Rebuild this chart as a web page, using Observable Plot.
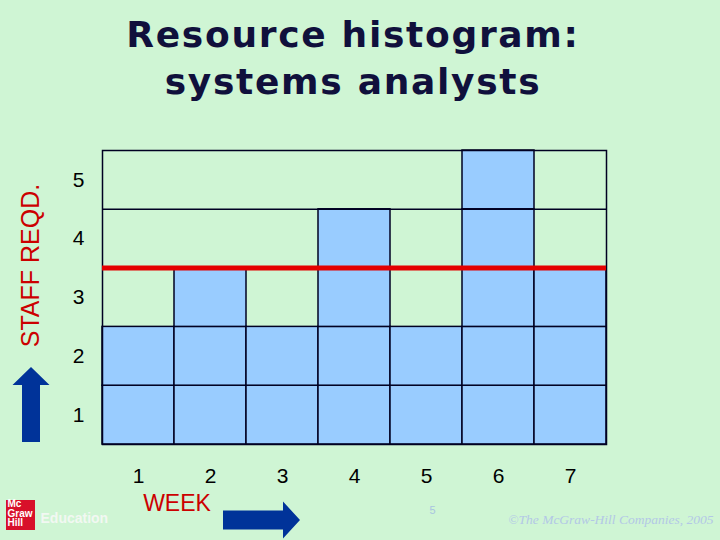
<!DOCTYPE html>
<html><head><meta charset="utf-8">
<script src="https://cdn.jsdelivr.net/npm/d3@7"></script>
<script src="https://cdn.jsdelivr.net/npm/@observablehq/plot@0.6"></script>
<style>
html,body{margin:0;padding:0;background:#cff5d4;}
#wrap{width:720px;height:540px;position:relative;overflow:hidden;background:#cff5d4;}
#title{height:140px;box-sizing:border-box;padding-top:11px;padding-right:14px;text-align:center;font:bold 36px "DejaVu Sans",sans-serif;color:#10103c;line-height:47px;letter-spacing:1.7px;}
#chart svg{display:block;overflow:visible;}
</style></head><body>
<div id="wrap"><div id="title">Resource histogram:<br>systems analysts</div><div id="chart"></div></div>
<script>
const weeks = [1, 2, 3, 4, 5, 6, 7];
const staffRequired = [2, 3, 2, 4, 2, 5, 3];
const staffLimit = 3;
const yMax = 5;
const yTickLabels = [1, 2, 3, 4, 5];
const gridLine = 4;

const cells = weeks.flatMap((w, i) =>
  d3.range(staffRequired[i]).map(k => ({week: w, lo: k, hi: k + 1})));

const ink = "#000022";
const arrowBlue = "#003399";

function decorations(index, scales, values, dimensions) {
  const {marginLeft: ml, height, marginBottom: mb} = dimensions;
  const fb = height - mb;
  const g = d3.create("svg:g");
  const cx = ml - 71;
  g.append("path").attr("fill", arrowBlue).attr("d",
    `M${cx},${fb - 77} L${cx + 18.5},${fb - 59} L${cx + 9},${fb - 59} L${cx + 9},${fb - 2} L${cx - 9},${fb - 2} L${cx - 9},${fb - 59} L${cx - 18.5},${fb - 59} Z`);
  const cy = fb + 76;
  g.append("path").attr("fill", arrowBlue).attr("d",
    `M${ml + 198},${cy} L${ml + 181},${cy - 18.5} L${ml + 181},${cy - 9.5} L${ml + 121},${cy - 9.5} L${ml + 121},${cy + 9.5} L${ml + 181},${cy + 9.5} L${ml + 181},${cy + 18.5} Z`);
  g.append("rect").attr("x", ml - 96).attr("y", fb + 56).attr("width", 29).attr("height", 30).attr("fill", "#d8102a");
  return g.node();
}

const chart = Plot.plot({
  width: 720, height: 400,
  marginTop: 10, marginBottom: 96, marginLeft: 102, marginRight: 114,
  style: {background: "transparent", fontFamily: "'Liberation Sans', Arial, sans-serif", color: "#000", overflow: "visible"},
  x: {domain: weeks, padding: 0, axis: null},
  y: {domain: [0, yMax], axis: null},
  marks: [
    Plot.barY(cells, {x: "week", y1: "lo", y2: "hi", fill: "#99ccff", stroke: ink, strokeWidth: 1.5, inset: 0}),
    Plot.ruleY([gridLine], {stroke: ink, strokeWidth: 1.5}),
    Plot.frame({stroke: ink, strokeWidth: 1.5}),
    Plot.ruleY([staffLimit], {stroke: "#e40000", strokeWidth: 5}),
    Plot.axisX({tickSize: 0, tickPadding: 24, fontSize: 21, label: null, fill: "#000"}),
    Plot.axisY({ticks: yTickLabels.map(v => v - 0.5), tickFormat: v => String(v + 0.5), tickSize: 0, tickPadding: 18, fontSize: 21, label: null, fill: "#000"}),
    Plot.text(["WEEK"], {frameAnchor: "bottom-left", dx: 74.5, dy: 59, lineAnchor: "middle", textAnchor: "middle", fill: "#cc0000", fontSize: 23}),
    Plot.text(["STAFF REQD."], {frameAnchor: "left", rotate: -90, dx: -72, dy: -32, lineAnchor: "middle", textAnchor: "middle", fill: "#cc0000", fontSize: 25}),
    decorations,
    Plot.text(["Mc\nGraw\nHill"], {frameAnchor: "bottom-left", dx: -95, dy: 56, lineAnchor: "top", textAnchor: "start", lineHeight: 0.95, fontSize: 10, fontWeight: "bold", fill: "#ffffff"}),
    Plot.text(["Education"], {frameAnchor: "bottom-left", dx: -62, dy: 74, lineAnchor: "middle", textAnchor: "start", fontSize: 14, fontWeight: "bold", fill: "#f2f8f2"}),
    Plot.text(["5"], {frameAnchor: "bottom-left", dx: 330, dy: 66, lineAnchor: "middle", textAnchor: "middle", fontSize: 11, fill: "#a9c4e0"}),
    Plot.text(["©The McGraw-Hill Companies, 2005"], {frameAnchor: "bottom-right", dx: 107, dy: 75, lineAnchor: "middle", textAnchor: "end", fontSize: 13.5, fontStyle: "italic", fontFamily: "'Liberation Serif', 'Times New Roman', serif", fill: "#b3c8e6"})
  ]
});
document.getElementById("chart").appendChild(chart);
</script>
</body></html>
